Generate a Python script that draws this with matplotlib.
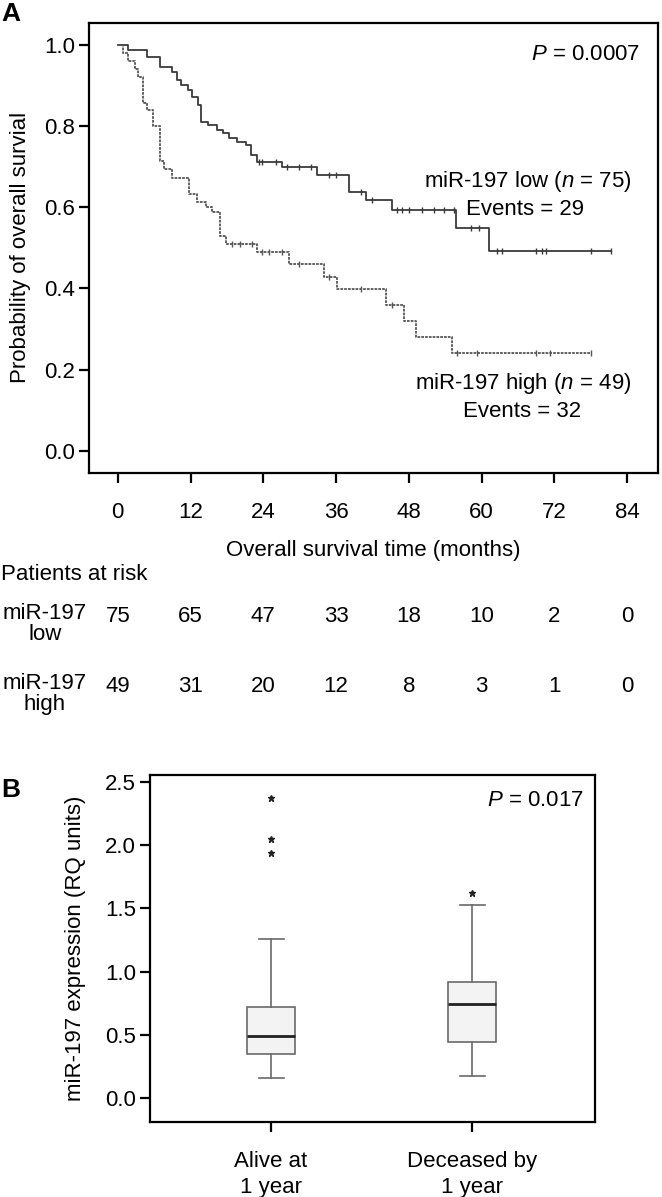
import matplotlib.pyplot as plt
import matplotlib.transforms as mtransforms
import numpy as np

plt.rcParams['font.family'] = ['Liberation Sans', 'DejaVu Sans']
plt.rcParams['mathtext.fontset'] = 'custom'
plt.rcParams['mathtext.rm'] = 'Liberation Sans'
plt.rcParams['mathtext.it'] = 'Liberation Sans:italic'

FS = 16

# Kaplan-Meier curves: (month of drop, survival after drop)
low_times = [1.6, 4.8, 6.9, 8.9, 9.7, 10.5, 11.5, 12.3, 13.2, 13.8, 14.8, 16.3, 17.3,
             18.4, 19.7, 21.2, 22.0, 22.9, 27.1, 32.9, 38.1, 40.9, 45.2, 55.7, 61.2]
low_surv = [0.987, 0.970, 0.946, 0.933, 0.914, 0.901, 0.889, 0.870, 0.852, 0.810, 0.803,
            0.791, 0.783, 0.771, 0.761, 0.754, 0.729, 0.712, 0.700, 0.680, 0.638, 0.618,
            0.594, 0.549, 0.493]
low_end = 81.4
low_censor = [23.3, 23.8, 26.1, 27.9, 29.9, 31.9, 34.9, 36.0, 40.1, 41.9, 46.0, 46.9,
              48.0, 50.1, 52.1, 53.8, 55.4, 58.2, 59.5, 62.5, 63.3, 69.0, 69.9, 70.7,
              78.1, 81.4]

high_times = [0.8, 1.6, 2.8, 3.3, 4.1, 4.8, 5.8, 6.9, 7.7, 8.9, 11.8, 13.0, 14.6, 15.5,
              16.8, 17.9, 22.9, 28.3, 34.0, 36.2, 44.2, 47.2, 49.2, 55.1]
high_surv = [0.980, 0.960, 0.940, 0.920, 0.857, 0.840, 0.800, 0.714, 0.694, 0.673, 0.633,
             0.612, 0.600, 0.588, 0.530, 0.510, 0.490, 0.459, 0.429, 0.398, 0.359, 0.320,
             0.280, 0.240]
high_end = 78.1
high_censor = [18.9, 20.1, 22.2, 23.8, 25.0, 27.1, 29.9, 34.9, 40.1, 45.2, 55.9, 59.2,
               69.0, 71.3, 78.1]

risk_months = [0, 12, 24, 36, 48, 60, 72, 84]
risk_low = [75, 65, 47, 33, 18, 10, 2, 0]
risk_high = [49, 31, 20, 12, 8, 3, 1, 0]

# Box plot summaries
box_labels = ['Alive at\n1 year', 'Deceased by\n1 year']
box_low = [0.16, 0.17]
box_q1 = [0.35, 0.44]
box_med = [0.49, 0.74]
box_q3 = [0.72, 0.92]
box_high = [1.26, 1.53]
box_fliers = [[2.37, 2.05, 1.94], [1.62]]


def step_xy(times, surv, end):
    xs, ys = [0], [1.0]
    for t, s in zip(times, surv):
        xs += [t, t]
        ys += [ys[-1], s]
    xs.append(end)
    ys.append(ys[-1])
    return np.array(xs), np.array(ys)


def surv_at(times, surv, t):
    s = 1.0
    for tt, ss in zip(times, surv):
        if tt <= t:
            s = ss
    return s


fig = plt.figure(figsize=(6.62, 11.97), dpi=100)

# ---------------- Panel A ----------------
ax = fig.add_axes([0.134, 0.605, 0.860, 0.376])
xl, yl = step_xy(low_times, low_surv, low_end)
xh, yh = step_xy(high_times, high_surv, high_end)
ax.plot(xl, yl, color='#3a3a3a', lw=1.3)
ax.plot(xh, yh, color='#555555', lw=1.3, ls=(0, (1.5, 0.6)))
ax.plot(low_censor, [surv_at(low_times, low_surv, t) for t in low_censor],
        ls='none', marker='|', ms=5, mew=1, color='#3a3a3a')
ax.plot(high_censor, [surv_at(high_times, high_surv, t) for t in high_censor],
        ls='none', marker='|', ms=5, mew=1, color='#555555')

ax.set_xlim(-4.8, 89.1)
ax.set_ylim(-0.054, 1.054)
ax.set_xticks(risk_months)
ax.set_yticks([0.0, 0.2, 0.4, 0.6, 0.8, 1.0])
ax.set_yticklabels(['0.0', '0.2', '0.4', '0.6', '0.8', '1.0'])
for sp in ax.spines.values():
    sp.set_linewidth(1.6)
ax.tick_params(direction='out', length=7, width=1.6, labelsize=FS, pad=3)
ax.tick_params(axis='x', pad=14)
ax.set_ylabel('Probability of overall survial', fontsize=FS, labelpad=9)
ax.set_xlabel('Overall survival time (months)', fontsize=FS, labelpad=12)

ax.text(86.1, 0.975, r'$\mathit{P}$ = 0.0007', ha='right', va='center', fontsize=FS)
ax.text(84.7, 0.663, r'miR-197 low ($\mathit{n}$ = 75)', ha='right', va='center', fontsize=FS)
ax.text(67.2, 0.594, 'Events = 29', ha='center', va='center', fontsize=FS)
ax.text(84.7, 0.167, r'miR-197 high ($\mathit{n}$ = 49)', ha='right', va='center', fontsize=FS)
ax.text(66.6, 0.096, 'Events = 32', ha='center', va='center', fontsize=FS)

fig.text(0.002, 0.9885, 'A', fontsize=19, fontweight='bold', va='center')

# risk table
tr = mtransforms.blended_transform_factory(ax.transData, fig.transFigure)
fig.text(0.002, 1 - 574 / 1197, 'Patients at risk', fontsize=FS, va='center')
fig.text(0.068, 1 - 624 / 1197, 'miR-197\nlow', fontsize=FS, va='center', ha='center',
         linespacing=1.05)
fig.text(0.068, 1 - 694 / 1197, 'miR-197\nhigh', fontsize=FS, va='center', ha='center',
         linespacing=1.05)
for m, a, b in zip(risk_months, risk_low, risk_high):
    ax.text(m, 1 - 616 / 1197, str(a), transform=tr, ha='center', va='center', fontsize=FS)
    ax.text(m, 1 - 686 / 1197, str(b), transform=tr, ha='center', va='center', fontsize=FS)

# ---------------- Panel B ----------------
bx = fig.add_axes([0.2266, 0.0627, 0.6720, 0.2898])
stats = []
for i in range(2):
    stats.append(dict(med=box_med[i], q1=box_q1[i], q3=box_q3[i],
                      whislo=box_low[i], whishi=box_high[i], fliers=box_fliers[i]))
bx.bxp(stats, positions=[1, 2], widths=0.24, capwidths=0.125, patch_artist=True,
       boxprops=dict(facecolor='#f3f3f3', edgecolor='#6a6a6a', lw=1.2),
       medianprops=dict(color='#222222', lw=2),
       whiskerprops=dict(color='#6a6a6a', lw=1.2),
       capprops=dict(color='#6a6a6a', lw=1.2),
       flierprops=dict(marker='*', markersize=5, markerfacecolor='#222222',
                       markeredgecolor='#222222', ls='none'))
bx.set_xlim(0.398, 2.61)
bx.set_ylim(-0.19, 2.555)
bx.set_yticks([0.0, 0.5, 1.0, 1.5, 2.0, 2.5])
bx.set_yticklabels(['0.0', '0.5', '1.0', '1.5', '2.0', '2.5'])
bx.set_xticks([1, 2])
bx.set_xticklabels(box_labels, fontsize=FS, linespacing=1.3)
for sp in bx.spines.values():
    sp.set_linewidth(1.6)
bx.tick_params(direction='out', length=7, width=1.6, labelsize=FS, pad=3)
bx.tick_params(axis='x', pad=14)
bx.set_ylabel('miR-197 expression (RQ units)', fontsize=FS, labelpad=14)
bx.text(0.975, 2.357, r'$\mathit{P}$ = 0.017', transform=bx.get_yaxis_transform(),
        ha='right', va='center', fontsize=FS)
fig.text(0.002, 1 - 790 / 1197, 'B', fontsize=19, fontweight='bold', va='center')

fig.savefig('out.png', dpi=100)
